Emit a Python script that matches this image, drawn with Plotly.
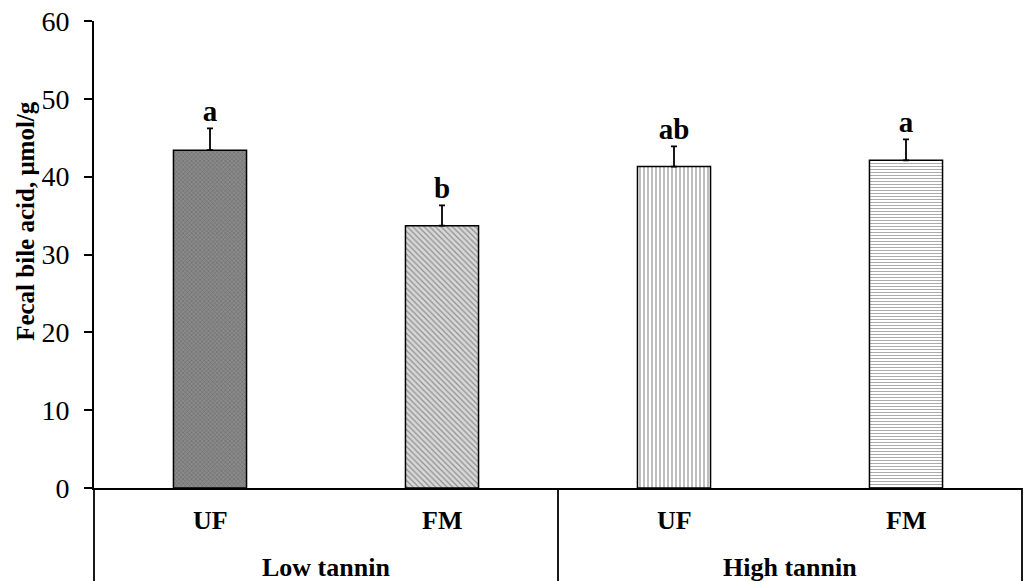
import plotly.graph_objects as go

groups = ["Low tannin", "Low tannin", "High tannin", "High tannin"]
treatments = ["UF", "FM", "UF", "FM"]
means = [43.4, 33.7, 41.3, 42.1]
sems = [2.8, 2.6, 2.6, 2.7]
letters = ["a", "b", "ab", "a"]
y_ticks = [0, 10, 20, 30, 40, 50, 60]
group_names = ["Low tannin", "High tannin"]
y_title = "Fecal bile acid, μmol/g"

x = [groups, treatments]
font_family = "Liberation Serif, Times New Roman, serif"

fig = go.Figure()
fig.add_trace(go.Bar(
    x=x, y=means,
    width=0.315,
    marker=dict(
        color=["#8a8a8a", "#d8d8d8", "white", "white"],
        line=dict(color="black", width=1.5),
        pattern=dict(
            shape=["x", "\\", "|", "-"],
            fgcolor=["#555555", "#707070", "#3a3a3a", "#a0a0a0"],
            bgcolor=["#a0a0a0", "#e0e0e0", "white", "white"],
            size=[3, 4, 4, 3],
            solidity=[0.3, 0.3, 0.35, 0.3],
        ),
    ),
    error_y=dict(type="data", array=sems, arrayminus=[0, 0, 0, 0], symmetric=False,
                 color="black", thickness=1.8, width=3),
    showlegend=False,
))
fig.add_trace(go.Scatter(
    x=x, y=[m + s for m, s in zip(means, sems)],
    mode="text", text=letters, textposition="top center",
    textfont=dict(family=font_family, size=29, color="black", weight="bold"),
    showlegend=False, cliponaxis=False,
))

# category box lines below the axis (left edge, group divider, right edge)
for xp in [0, 0.5, 1]:
    fig.add_shape(type="line", xref="paper", yref="paper", x0=xp, x1=xp,
                  y0=0, y1=-0.25, line=dict(color="black", width=1.8))

n = len(treatments)
for i, t in enumerate(treatments):
    fig.add_annotation(text=t, xref="paper", yref="paper", x=(i + 0.5) / n, y=0,
                       yshift=-32, showarrow=False, xanchor="center", yanchor="middle",
                       font=dict(family=font_family, size=26, color="black", weight="bold"))
ng = len(group_names)
for j, g in enumerate(group_names):
    fig.add_annotation(text=g, xref="paper", yref="paper", x=(j + 0.5) / ng, y=0,
                       yshift=-79, showarrow=False, xanchor="center", yanchor="middle",
                       font=dict(family=font_family, size=26, color="black", weight="bold"))

fig.add_annotation(text=y_title, xref="paper", yref="paper", x=-0.0733, y=0.572,
                   textangle=-90, showarrow=False, xanchor="center", yanchor="middle",
                   font=dict(family=font_family, size=25, color="black", weight="bold"))

fig.update_layout(
    width=1024, height=581,
    margin=dict(l=94, r=2, t=21, b=93, autoexpand=False),
    plot_bgcolor="white", paper_bgcolor="white",
    font=dict(family=font_family, color="black"),
)
fig.update_yaxes(
    range=[0, 60], tickvals=y_ticks, ticks="outside", ticklen=8, tickwidth=1.5,
    tickcolor="black", showline=True, linecolor="black", linewidth=1.8,
    showgrid=False, zeroline=False, ticklabelstandoff=9,
    tickfont=dict(family=font_family, size=28, color="black"),
)
fig.update_xaxes(
    type="multicategory", showline=True, linecolor="black", linewidth=1.8,
    ticks="", showgrid=False, showdividers=False, showticklabels=False,
)

fig.write_html("out.html", config={"displayModeBar": False},
               post_script="document.body.style.margin='0';document.body.style.overflow='hidden';")
